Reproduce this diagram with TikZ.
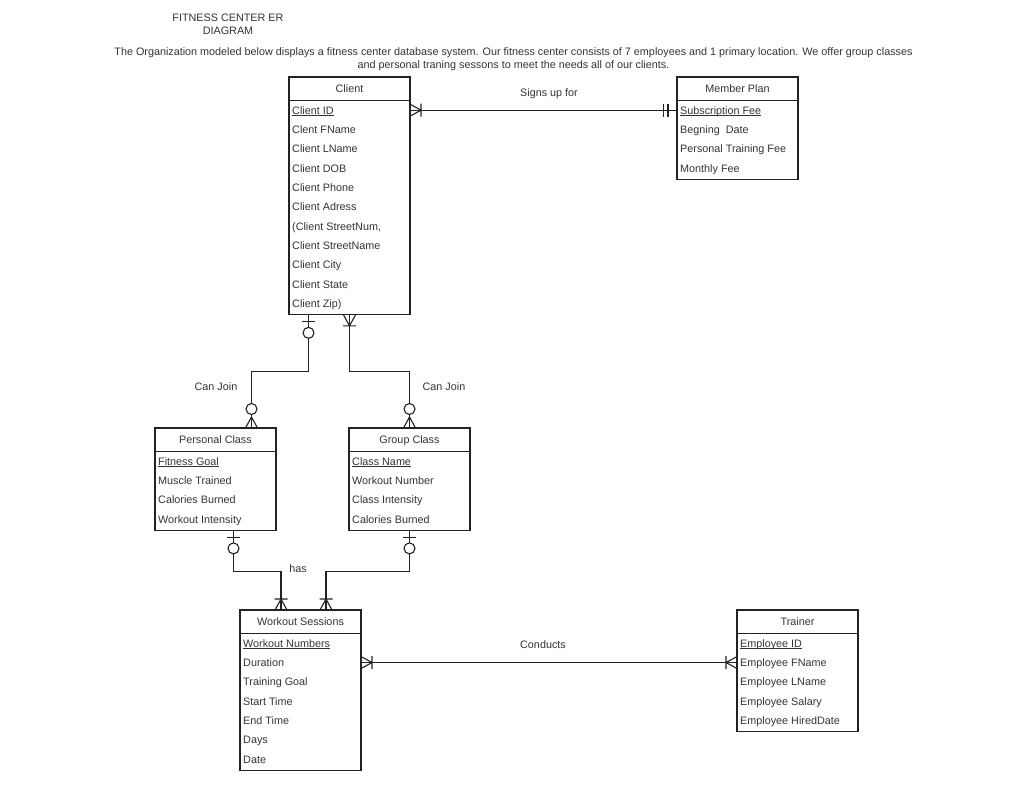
\documentclass[tikz,border=0pt]{standalone}
\usepackage{fontspec}
\setmainfont{Liberation Sans}
\usetikzlibrary{positioning, calc}
\definecolor{erInk}{RGB}{34, 34, 34}
\definecolor{erText}{RGB}{51, 51, 51}
\newcommand{\erkey}[1]{\underline{\smash{#1}}}

\tikzset{
  erline/.style={draw=erInk, line width=1.1pt},
  erhead/.style={rectangle, draw=erInk, line width=1.1pt, outer sep=0pt,
                 minimum width=121pt, minimum height=23.5pt, inner sep=0pt,
                 text height=8pt, text depth=0pt},
  erbody/.style={rectangle, draw=erInk, line width=1.1pt, outer sep=0pt,
                 minimum width=121pt, inner sep=0pt},
  erattr/.style={anchor=west, inner xsep=3pt, inner ysep=0pt,
                 text height=8pt, text depth=0pt},
  % crow's foot ends, drawn leaving the box along +x
  onlyone/.pic={\draw[erline] (9,-6.5) -- (9,6.5) (13.5,-6.5) -- (13.5,6.5);},
  onemany/.pic={\draw[erline] (0,6) -- (11,0) -- (0,-6) (11,-6.5) -- (11,6.5);},
  zeroone/.pic={\draw[erline] (7,-6.5) -- (7,6.5);
                \draw[erline, fill=white] (18,0) circle (5.5);},
  zeromany/.pic={\draw[erline] (0,6) -- (11,0) -- (0,-6);
                 \draw[erline, fill=white] (19,0) circle (5.5);}
}

% #1 name, #2 north west corner, #3 title, #4 rows, #5 attributes
\newcommand{\erentity}[5]{%
  \node[erhead, anchor=north west] (#1) at #2 {#3};
  \node[erbody, below=0pt of #1, minimum height=#4*19.35pt+1.5pt] (#1-body) {};
  \foreach \attr [count=\i] in {#5}
    \node[erattr] (#1-\i) at ($(#1.south west)+(0,-\i*19.35+9.675)$) {\attr};
}

\begin{document}
\begin{tikzpicture}[x=1pt, y=1pt, font=\fontsize{10.8pt}{13pt}\selectfont,
                    every node/.append style={text=erText}]
  \useasboundingbox (0,0) rectangle (1024,-786);

  \node[align=center] (title) at (228,-24.5) {FITNESS CENTER ER\\DIAGRAM};
  \node[align=center] (intro) at (513.5,-59) {The Organization modeled below displays a fitness center database system. Our fitness center consists of 7 employees and 1 primary location. We offer group classes\\and personal traning sessons to meet the needs all of our clients.};

  \erentity{cli}{(289,-77)}{Client}{11}{\erkey{Client ID}, Clent FName, Client LName,
    Client DOB, Client Phone, Client Adress, {(Client StreetNum,}, Client StreetName,
    Client City, Client State, Client Zip)}
  \erentity{mpl}{(677,-77)}{Member Plan}{4}{\erkey{Subscription Fee}, Begning~~Date,
    Personal Training Fee, Monthly Fee}
  \erentity{pcl}{(155,-428)}{Personal Class}{4}{\erkey{Fitness Goal}, Muscle Trained,
    Calories Burned, Workout Intensity}
  \erentity{gcl}{(349,-428)}{Group Class}{4}{\erkey{Class Name}, Workout Number,
    Class Intensity, Calories Burned}
  \erentity{wks}{(240,-610)}{Workout Sessions}{7}{\erkey{Workout Numbers}, Duration,
    Training Goal, Start Time, End Time, Days, Date}
  \erentity{trn}{(737,-610)}{Trainer}{5}{\erkey{Employee ID}, Employee FName,
    Employee LName, Employee Salary, Employee HiredDate}

  % relationships
  \draw[erline] (cli-1 -| cli-body.east) -- (mpl-1 -| mpl-body.west);
  \draw[erline] ($(cli-body.south)+(-41,0)$) -- ++(0,-57) -| ($(pcl.north)+(36,0)$);
  \draw[erline] (cli-body.south) -- ++(0,-57) -| (gcl.north);
  \draw[erline] ($(pcl-body.south)+(18,0)$) -- ++(0,-41) -| ($(wks.north)+(-19.5,0)$);
  \draw[erline] (gcl-body.south) -- ++(0,-41) -| ($(wks.north)+(25.5,0)$);
  \draw[erline] (wks-2 -| wks-body.east) -- (trn-2 -| trn-body.west);

  \pic at (cli-1 -| cli-body.east) {onemany};
  \pic[rotate=180] at (mpl-1 -| mpl-body.west) {onlyone};
  \pic[rotate=-90] at ($(cli-body.south)+(-41,0)$) {zeroone};
  \pic[rotate=-90] at (cli-body.south) {onemany};
  \pic[rotate=90] at ($(pcl.north)+(36,0)$) {zeromany};
  \pic[rotate=90] at (gcl.north) {zeromany};
  \pic[rotate=-90] at ($(pcl-body.south)+(18,0)$) {zeroone};
  \pic[rotate=-90] at (gcl-body.south) {zeroone};
  \pic[rotate=90] at ($(wks.north)+(-19.5,0)$) {onemany};
  \pic[rotate=90] at ($(wks.north)+(25.5,0)$) {onemany};
  \pic at (wks-2 -| wks-body.east) {onemany};
  \pic[rotate=180] at (trn-2 -| trn-body.west) {onemany};

  \node (signs) at (549,-94) {Signs up for};
  \node (join1) at (216,-387) {Can Join};
  \node (join2) at (444,-387) {Can Join};
  \node (has) at (298,-569) {has};
  \node (conducts) at (543,-645) {Conducts};
\end{tikzpicture}
\end{document}
